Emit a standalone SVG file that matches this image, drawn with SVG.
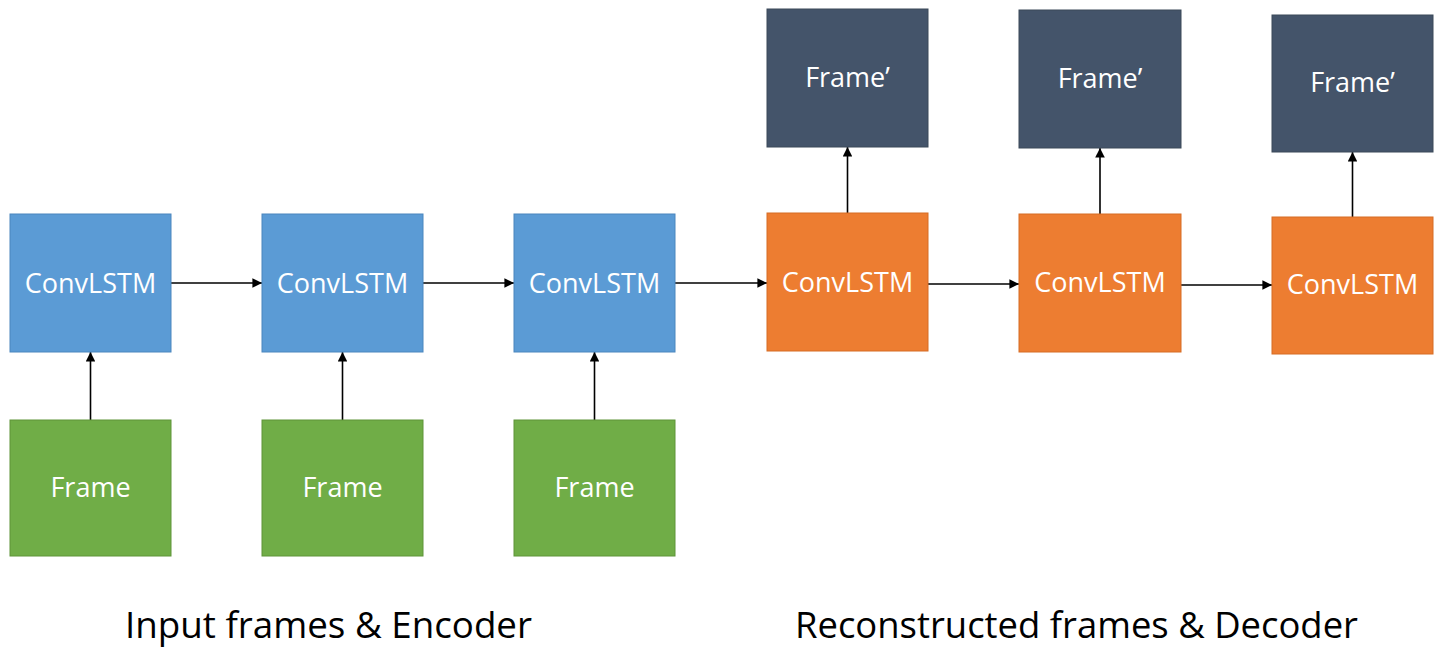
<svg xmlns="http://www.w3.org/2000/svg" width="1445" height="647" viewBox="0 0 1445 647">
<style>
.enc{fill:#5B9BD5;stroke:#4A86BE;stroke-width:1}
.inp{fill:#70AD47;stroke:#5E9438;stroke-width:1}
.dec{fill:#ED7D31;stroke:#D66C24;stroke-width:1}
.out{fill:#44546A;stroke:#3A4859;stroke-width:1}
.lbl{font-family:"Open Sans","Liberation Sans",sans-serif;font-size:27px;fill:#FFFFFF;text-anchor:middle}
.cap{font-family:"Open Sans","Liberation Sans",sans-serif;font-size:36px;fill:#000000}
.conn{stroke:#000;stroke-width:1.6;fill:none;marker-end:url(#ah)}
</style>
<defs>
<marker id="ah" viewBox="0 0 10 10" refX="10" refY="5" markerWidth="6" markerHeight="6" markerUnits="strokeWidth" orient="auto">
<path d="M0,0 L10,5 L0,10 Z" fill="#000"/>
</marker>
</defs>
<rect width="1445" height="647" fill="#FFFFFF"/>
<g id="connectors">
<line class="conn" x1="171" y1="283" x2="262" y2="283"/>
<line class="conn" x1="423" y1="283" x2="514" y2="283"/>
<line class="conn" x1="675" y1="283" x2="767" y2="283"/>
<line class="conn" x1="928" y1="284" x2="1019" y2="284"/>
<line class="conn" x1="1181" y1="285" x2="1272" y2="285"/>
<line class="conn" x1="90.5" y1="420" x2="90.5" y2="352"/>
<line class="conn" x1="342.5" y1="420" x2="342.5" y2="352"/>
<line class="conn" x1="594.5" y1="420" x2="594.5" y2="352"/>
<line class="conn" x1="847.5" y1="213" x2="847.5" y2="147"/>
<line class="conn" x1="1100" y1="214" x2="1100" y2="148"/>
<line class="conn" x1="1352.5" y1="217" x2="1352.5" y2="152"/>
</g>
<g id="enc1"><rect class="enc" x="10" y="214" width="161" height="138"/><text class="lbl" x="90.5" y="293">ConvLSTM</text></g>
<g id="enc2"><rect class="enc" x="262" y="214" width="161" height="138"/><text class="lbl" x="342.5" y="293">ConvLSTM</text></g>
<g id="enc3"><rect class="enc" x="514" y="214" width="161" height="138"/><text class="lbl" x="594.5" y="293">ConvLSTM</text></g>
<g id="in1"><rect class="inp" x="10" y="420" width="161" height="136"/><text class="lbl" x="90.5" y="497">Frame</text></g>
<g id="in2"><rect class="inp" x="262" y="420" width="161" height="136"/><text class="lbl" x="342.5" y="497">Frame</text></g>
<g id="in3"><rect class="inp" x="514" y="420" width="161" height="136"/><text class="lbl" x="594.5" y="497">Frame</text></g>
<g id="dec1"><rect class="dec" x="767" y="213" width="161" height="138"/><text class="lbl" x="847.5" y="292">ConvLSTM</text></g>
<g id="dec2"><rect class="dec" x="1019" y="214" width="162" height="138"/><text class="lbl" x="1100" y="292">ConvLSTM</text></g>
<g id="dec3"><rect class="dec" x="1272" y="217" width="161" height="137"/><text class="lbl" x="1352.5" y="294">ConvLSTM</text></g>
<g id="out1"><rect class="out" x="767" y="9" width="161" height="138"/><text class="lbl" x="847.5" y="87">Frame’</text></g>
<g id="out2"><rect class="out" x="1019" y="10" width="162" height="138"/><text class="lbl" x="1100" y="88">Frame’</text></g>
<g id="out3"><rect class="out" x="1272" y="15" width="161" height="137"/><text class="lbl" x="1352.5" y="92">Frame’</text></g>
<g id="captions">
<text class="cap" x="125" y="638" textLength="407" lengthAdjust="spacingAndGlyphs">Input frames &amp; Encoder</text>
<text class="cap" x="795" y="638" textLength="563" lengthAdjust="spacingAndGlyphs">Reconstructed frames &amp; Decoder</text>
</g>
</svg>
